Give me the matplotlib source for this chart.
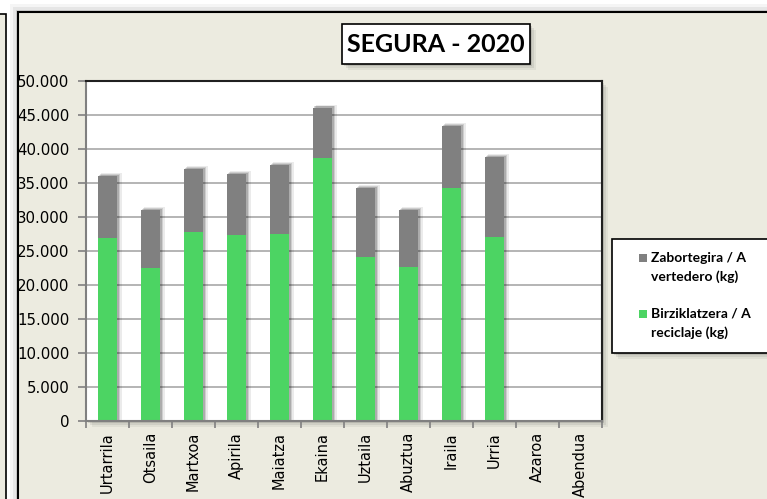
#!/usr/bin/env python3

import numpy as np
import matplotlib
matplotlib.use("Agg")
import matplotlib.pyplot as plt
from matplotlib.patches import Rectangle
from matplotlib.ticker import FuncFormatter, MultipleLocator

# data (kg)
months = ["Urtarrila", "Otsaila", "Martxoa", "Apirila", "Maiatza", "Ekaina",
          "Uztaila", "Abuztua", "Iraila", "Urria", "Azaroa", "Abendua"]
recycle = [26900, 22500, 27800, 27400, 27500, 38700,
           24100, 22700, 34300, 27000, np.nan, np.nan]
landfill = [9100, 8500, 9300, 8900, 10100, 7400,
            10100, 8300, 9100, 11800, np.nan, np.nan]

title = "SEGURA - 2020"
label_landfill = "Zabortegira / A\nvertedero (kg)"
label_recycle = "Birziklatzera / A\nreciclaje (kg)"

GREEN = "#4cd463"
GRAY = "#808080"
BEIGE = "#ecebe0"

W, H = 767, 499


def fx(x):
    return x / W


def fy(y):
    return 1 - y / H


def add_box(fig, x0, y0, x1, y1, shadow=True, **kw):
    # draw a box given in pixel coords (y measured from the top)
    if shadow:
        for k, a in [(6, 0.05), (4, 0.07), (2, 0.1)]:
            fig.add_artist(Rectangle((fx(x0 + k), fy(y1 + k)), (x1 - x0) / W, (y1 - y0) / H,
                                     transform=fig.transFigure, facecolor="black",
                                     edgecolor="none", alpha=a, zorder=kw.get("zorder", 0) - 0.1))
    fig.add_artist(Rectangle((fx(x0), fy(y1)), (x1 - x0) / W, (y1 - y0) / H,
                             transform=fig.transFigure, **kw))


fig = plt.figure(figsize=(W / 100, H / 100), dpi=100, facecolor="white")

# background panels
add_box(fig, -20, 14, 5.5, 520, shadow=False, facecolor=BEIGE, edgecolor="black",
        linewidth=1.2, zorder=-5)
for k, a in [(8, 0.04), (5, 0.06), (2, 0.1)]:
    fig.add_artist(Rectangle((fx(17.5 - k), fy(520)), (780 - 17.5) / W, (520 - 11.5 + k) / H,
                             transform=fig.transFigure, facecolor="black",
                             edgecolor="none", alpha=a, zorder=-4.5))
add_box(fig, 17.5, 11.5, 790, 520, shadow=False, facecolor=BEIGE, edgecolor="black",
        linewidth=1.5, zorder=-4)

# plot area shadow
add_box(fig, 86, 81, 602, 421, shadow=True, facecolor="white", edgecolor="none", zorder=-2)

ax = fig.add_axes([fx(86), fy(421), (602 - 86) / W, (421 - 81) / H])
ax.set_facecolor("white")

x = np.arange(len(months))
width = 0.42
totals = np.array(recycle) + np.array(landfill)
dx = 4 / 43.0
dy = 2 * 50000 / 340.0

# soft bar shadows, mostly to the right
for k, a in [(1.5, 0.08), (1.0, 0.12), (0.6, 0.16)]:
    ax.bar(x + dx * k * 0.6, totals + dy * k, width=width + dx * k * 0.5, color="black",
           alpha=a, linewidth=0, zorder=1)

ax.bar(x, recycle, width=width, color=GREEN, linewidth=0, zorder=2)
ax.bar(x, landfill, width=width, bottom=recycle, color=GRAY, linewidth=0, zorder=2)

ax.set_xlim(-0.5, len(months) - 0.5)
ax.set_ylim(0, 50000)
ax.yaxis.set_major_locator(MultipleLocator(5000))
ax.yaxis.set_major_formatter(FuncFormatter(lambda v, p: f"{int(v):,}".replace(",", ".")))
ax.grid(axis="y", color="#a8a8a8", linewidth=1.2, zorder=0)
ax.set_axisbelow(True)

ax.set_xticks(x)
ax.set_xticklabels(months, rotation=90)
ax.set_xticks(np.arange(len(months) + 1) - 0.5, minor=True)
ax.tick_params(axis="x", which="major", length=0, pad=8, labelsize=10.5)
ax.tick_params(axis="x", which="minor", length=5, width=1.2, color=GRAY, direction="out")
ax.tick_params(axis="y", length=6, width=1.2, color=GRAY, pad=6, labelsize=10.8)

for side in ["left", "bottom"]:
    ax.spines[side].set_color(GRAY)
    ax.spines[side].set_linewidth(1.5)
for side in ["top", "right"]:
    ax.spines[side].set_color("#202020")
    ax.spines[side].set_linewidth(1.5)

# title box
add_box(fig, 341.5, 24, 530, 64, facecolor="white", edgecolor="black", linewidth=1.2, zorder=3)
fig.text(fx(436), fy(45), title, ha="center", va="center", fontsize=18,
         fontweight="bold", family="Lato", zorder=4)

# legend box
add_box(fig, 612, 239, 770, 353, facecolor="white", edgecolor="black", linewidth=1.2, zorder=3)
for label, color, ytop in [(label_landfill, GRAY, 254), (label_recycle, GREEN, 310)]:
    fig.add_artist(Rectangle((fx(639), fy(ytop + 8)), 8 / W, 8 / H, transform=fig.transFigure,
                             facecolor=color, edgecolor="none", zorder=4))
    fig.text(fx(651), fy(ytop - 2), label, ha="left", va="top", fontsize=10,
             fontweight="bold", family="Lato", linespacing=1.6, zorder=4)

fig.savefig("out.png", dpi=100, facecolor="white")
